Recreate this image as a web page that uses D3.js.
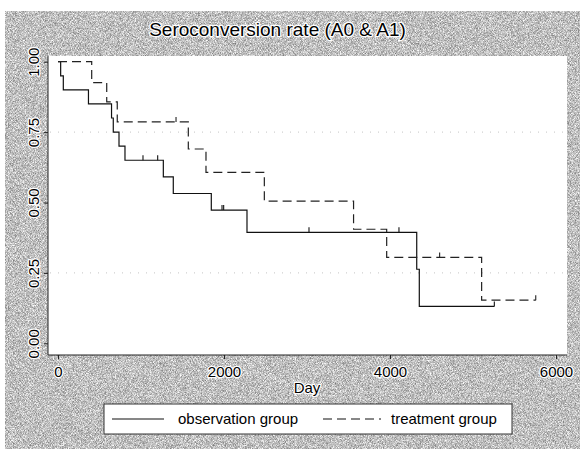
<!DOCTYPE html>
<html>
<head>
<meta charset="utf-8">
<script src="https://cdn.jsdelivr.net/npm/d3@7"></script>
<style>
  html, body { margin: 0; padding: 0; background: #fff; }
  svg { display: block; }
  text { font-family: "Liberation Sans", Arial, sans-serif; fill: #000; }
</style>
</head>
<body>
<div id="chart"></div>
<script>
// Kaplan-Meier steps (day, survival)
const obsDays   = [0, 32, 64, 367, 645, 666, 735, 807, 1269, 1389, 1847, 2277, 4322, 4353, 5257];
const obsSurv   = [1, 0.95, 0.90, 0.85, 0.80, 0.75, 0.70, 0.65, 0.591, 0.532, 0.473, 0.394, 0.263, 0.131, 0.131];
const obsCensor = [1024, 1201, 1976, 1996, 3024, 4108, 5257];

const trtDays   = [0, 406, 587, 714, 1570, 1783, 2486, 3561, 3960, 5104, 5756];
const trtSurv   = [1, 0.926, 0.857, 0.786, 0.69, 0.607, 0.505, 0.405, 0.305, 0.153, 0.153];
const trtCensor = [1422, 4598, 5756];

const xTicks = [0, 2000, 4000, 6000];
const yTicks = [0, 0.25, 0.5, 0.75, 1];
const gridVals = [0.25, 0.75];
const seriesNames = ['observation group', 'treatment group'];

const W = 580, H = 449;

const svg = d3.select('#chart')
    .append('svg')
    .attr('width', W)
    .attr('height', H);

// grainy gray backdrop like the scanned original
const defs = svg.append('defs');
const grain = defs.append('filter').attr('id', 'grain')
    .attr('x', 0).attr('y', 0).attr('width', 1).attr('height', 1)
    .attr('color-interpolation-filters', 'sRGB');
grain.append('feTurbulence')
    .attr('type', 'fractalNoise')
    .attr('baseFrequency', 1.4)
    .attr('numOctaves', 1)
    .attr('seed', 3);
grain.append('feColorMatrix')
    .attr('type', 'matrix')
    .attr('values', '0.9 0 0 0 0.3  0.9 0 0 0 0.3  0.9 0 0 0 0.3  0 0 0 0 1');

svg.append('rect')
    .attr('x', 5).attr('y', 11)
    .attr('width', W - 5).attr('height', H - 11)
    .attr('fill', '#bcbcbc')
    .attr('filter', 'url(#grain)');

// scales
const x = d3.scaleLinear().domain([0, 6000]).range([58, 556]);
const y = d3.scaleLinear().domain([0, 1]).range([343.3, 61.7]);

const plot = { left: 48, right: 567, top: 56, bottom: 355 };

// white plot region
svg.append('rect')
    .attr('x', plot.left).attr('y', plot.top)
    .attr('width', plot.right - plot.left)
    .attr('height', plot.bottom - plot.top)
    .attr('fill', '#fff');

// dotted gridlines (only 0.25 and 0.75)
svg.append('g')
    .selectAll('line')
    .data(gridVals)
    .join('line')
    .attr('x1', plot.left + 2).attr('x2', plot.right - 2)
    .attr('y1', d => y(d)).attr('y2', d => y(d))
    .attr('stroke', '#c4c4c4')
    .attr('stroke-width', 1)
    .attr('stroke-dasharray', '1,7');

// axes
const halo = sel => sel
    .attr('stroke', '#fff')
    .attr('stroke-width', 2.5)
    .attr('stroke-linejoin', 'round')
    .attr('paint-order', 'stroke');

const yAxis = svg.append('g')
    .attr('transform', `translate(${plot.left},0)`)
    .call(d3.axisLeft(y).tickValues(yTicks).tickSize(4).tickFormat(d3.format('.2f')));
yAxis.select('.domain')
    .attr('d', `M0,${plot.top}V${plot.bottom}`)
    .attr('stroke', '#222');
yAxis.selectAll('.tick line').attr('stroke', '#222');
yAxis.selectAll('.tick text')
    .attr('x', null).attr('dy', null)
    .attr('transform', 'translate(-9.5,0) rotate(-90)')
    .attr('text-anchor', 'middle')
    .style('font-size', '15px')
    .style('font-family', '"Liberation Sans", Arial, sans-serif')
    .call(halo);

const xAxis = svg.append('g')
    .attr('transform', `translate(0,${plot.bottom})`)
    .call(d3.axisBottom(x).tickValues(xTicks).tickSize(4).tickFormat(d3.format('d')));
xAxis.select('.domain')
    .attr('d', `M${plot.left},0H${plot.right}`)
    .attr('stroke', '#222');
xAxis.selectAll('.tick line').attr('stroke', '#222');
xAxis.selectAll('.tick text')
    .attr('y', 22).attr('dy', null)
    .style('font-size', '15px')
    .style('font-family', '"Liberation Sans", Arial, sans-serif')
    .call(halo);

// step curves
const stepLine = d3.line()
    .x(d => x(d[0]))
    .y(d => y(d[1]))
    .curve(d3.curveStepAfter);

const survAt = (days, surv, t) => {
    let s = surv[0];
    for (let i = 0; i < days.length; i++) if (days[i] <= t) s = surv[i];
    return s;
};

const series = [
    { name: seriesNames[0], days: obsDays, surv: obsSurv, censor: obsCensor, dash: null, color: '#111' },
    { name: seriesNames[1], days: trtDays, surv: trtSurv, censor: trtCensor, dash: '9,5', color: '#222' }
];

series.forEach(s => {
    const pts = s.days.map((d, i) => [d, s.surv[i]]);
    svg.append('path')
        .attr('d', stepLine(pts))
        .attr('fill', 'none')
        .attr('stroke', s.color)
        .attr('stroke-width', 1.2)
        .attr('stroke-dasharray', s.dash);

    // censoring ticks
    svg.append('g')
        .selectAll('line')
        .data(s.censor)
        .join('line')
        .attr('x1', d => x(d)).attr('x2', d => x(d))
        .attr('y1', d => y(survAt(s.days, s.surv, d)))
        .attr('y2', d => y(survAt(s.days, s.surv, d)) - 5)
        .attr('stroke', s.color)
        .attr('stroke-width', 1.1);
});

// title and axis label
svg.append('text')
    .attr('x', 277.5).attr('y', 36)
    .attr('text-anchor', 'middle')
    .style('font-size', '19px')
    .text('Seroconversion rate (A0 & A1)')
    .call(halo);

svg.append('text')
    .attr('x', 307).attr('y', 393)
    .attr('text-anchor', 'middle')
    .style('font-size', '15px')
    .text('Day')
    .call(halo);

// legend
const legend = svg.append('g');
legend.append('rect')
    .attr('x', 104).attr('y', 404)
    .attr('width', 408).attr('height', 30)
    .attr('fill', '#fff')
    .attr('stroke', '#333')
    .attr('stroke-width', 1);

const legendItems = [
    { label: seriesNames[0], x0: 112, x1: 164, tx: 178, dash: null },
    { label: seriesNames[1], x0: 323, x1: 381, tx: 391, dash: '9,5' }
];
legendItems.forEach(it => {
    legend.append('line')
        .attr('x1', it.x0).attr('x2', it.x1)
        .attr('y1', 419).attr('y2', 419)
        .attr('stroke', '#111')
        .attr('stroke-width', 1.2)
        .attr('stroke-dasharray', it.dash);
    legend.append('text')
        .attr('x', it.tx).attr('y', 424)
        .style('font-size', '15px')
        .text(it.label);
});
</script>
</body>
</html>
